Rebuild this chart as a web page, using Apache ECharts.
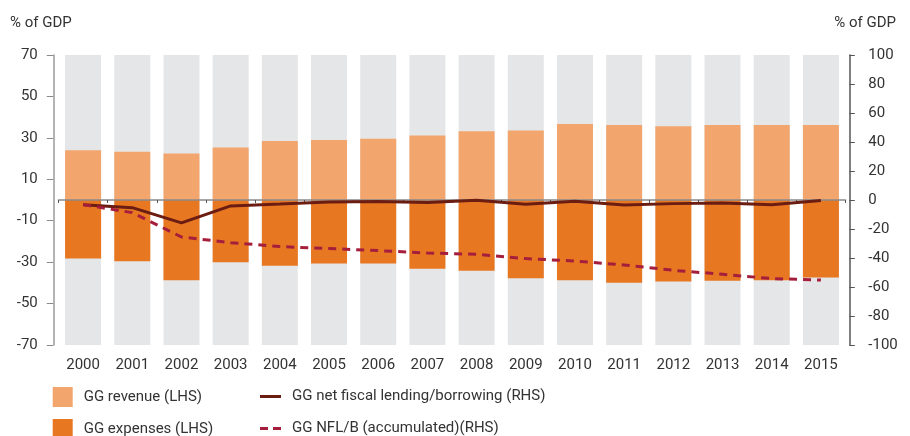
<!DOCTYPE html>
<html><head><meta charset="utf-8">
<script src="https://cdn.jsdelivr.net/npm/echarts@6/dist/echarts.min.js"></script>
<style>html,body{margin:0;padding:0;background:#fff}#c{width:910px;height:436px}</style>
</head><body><div id="c"></div>
<script>
var years = ['2000','2001','2002','2003','2004','2005','2006','2007','2008','2009','2010','2011','2012','2013','2014','2015'];
var revenue = [24.0,23.3,22.4,25.4,28.5,29.0,29.6,31.1,33.2,33.6,36.7,36.2,35.6,36.2,36.2,36.2];
var expenses = [-28.2,-29.6,-38.8,-30.1,-31.7,-30.7,-30.7,-33.2,-34.1,-37.8,-38.8,-39.9,-39.4,-39.0,-38.8,-37.4];
var netLending = [-3.2,-5.3,-15.8,-4.1,-2.8,-1.4,-1.1,-1.8,-0.2,-2.9,-0.9,-3.5,-2.5,-2.1,-3.2,-0.4];
var accumulated = [-3.2,-8.7,-25.5,-29.4,-32.1,-33.5,-34.9,-36.6,-37.4,-40.4,-42.1,-44.8,-48.5,-51.2,-54.2,-55.2];
var leftTicks = [-70,-50,-30,-10,10,30,50,70];

var FONT = 'Roboto,"Noto Sans",sans-serif';
var TXT = '#333333';
function ts(size){ return {fontFamily:FONT,fontSize:size,fontWeight:'normal',color:TXT}; }
function leg(name, icon, left, top, w, h){
  var t = ts(15); t.padding=[0,0,0,6];
  return {orient:'horizontal', left:left, top:top, padding:0, itemWidth:w, itemHeight:h, data:[{name:name,icon:icon}], textStyle:t};
}
var chart = echarts.init(document.getElementById('c'), null, {renderer:'canvas'});
chart.setOption({
  animation:false,
  textStyle:{fontFamily:FONT},
  title:[
    {text:'% of GDP', left:5, top:11, textStyle:ts(15)},
    {text:'% of GDP', right:9, top:11, textStyle:ts(15)}
  ],
  grid:{left:58.5, right:64.5, top:55, bottom:91},
  legend:[
    leg('GG revenue (LHS)','rect',52.7,387,20,20),
    leg('GG expenses (LHS)','rect',52.7,419,20,20),
    leg('GG net fiscal lending/borrowing (RHS)','rect',260,389,21,3),
    leg('GG NFL/B (accumulated)(RHS)','path://M0,0H8V3H0Z M13,0H21V3H13Z',260,421,21,3)
  ],
  xAxis:[
    {type:'category', data:years, position:'bottom', axisLine:{show:false,onZero:false}, axisTick:{show:false},
     axisLabel:Object.assign(ts(15),{margin:13})},
    {type:'category', data:years, position:'bottom', axisLine:{onZero:true,lineStyle:{color:'#8a8a8a',width:1.5}},
     axisTick:{show:true,inside:false,length:3,lineStyle:{color:'#555'}}, axisLabel:{show:false}, z:5}
  ],
  yAxis:[
    {type:'value', min:-70, max:70, interval:20, position:'left', offset:5.2,
     axisLine:{show:true,lineStyle:{color:'#9a9a9a',width:1.5}},
     axisTick:{show:true,length:6.5,customValues:leftTicks,lineStyle:{color:'#8a8a8a'}},
     axisLabel:Object.assign(ts(15),{margin:15.5,customValues:leftTicks}),
     splitLine:{show:false}},
    {type:'value', min:-100, max:100, interval:20, position:'right', offset:3.8,
     axisLine:{show:true,lineStyle:{color:'#555',width:1.5}},
     axisTick:{show:true,length:5.5,lineStyle:{color:'#555'}},
     axisLabel:Object.assign(ts(15),{margin:19}),
     splitLine:{show:false}}
  ],
  series:[
    {name:'GG revenue (LHS)', type:'bar', data:revenue, barWidth:36, barGap:'-100%',
     itemStyle:{color:'#F2A66E'}, showBackground:true, backgroundStyle:{color:'#E5E6E7'}},
    {name:'GG expenses (LHS)', type:'bar', data:expenses, barWidth:36,
     itemStyle:{color:'#E87722'}},
    {name:'GG net fiscal lending/borrowing (RHS)', type:'line', yAxisIndex:1, data:netLending,
     symbol:'none', lineStyle:{color:'#6B1D12',width:3}, itemStyle:{color:'#6B1D12'}, z:6},
    {name:'GG NFL/B (accumulated)(RHS)', type:'line', yAxisIndex:1, data:accumulated,
     symbol:'none', lineStyle:{color:'#A51E3C',width:3,type:[8,6]}, itemStyle:{color:'#A51E3C'}, z:6}
  ]
});
</script></body></html>
